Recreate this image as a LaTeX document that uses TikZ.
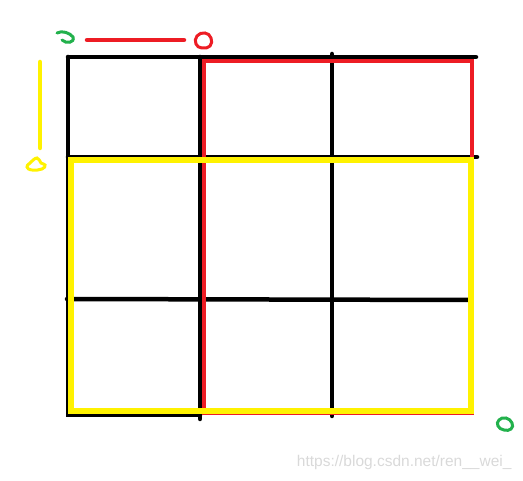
\documentclass[tikz,border=0pt]{standalone}
\usepackage{fontspec}
\setmainfont{Liberation Sans}
\usetikzlibrary{positioning}
\definecolor{paintred}{RGB}{237,28,36}
\definecolor{paintyellow}{RGB}{255,242,0}
\definecolor{paintgreen}{RGB}{34,177,76}

\begin{document}
\begin{tikzpicture}[x=1pt,y=-1pt,line cap=round,
    grid/.style={line width=4.5pt,black},
    redbox/.style={line width=4.5pt,paintred},
    yellowbox/.style={line width=5.5pt,paintyellow},
    scribble/.style={line width=3pt,smooth cycle,tension=0.8}]

                \useasboundingbox (0,0) rectangle (523,481);

                % grid
                \draw[grid] (68,57) -- (476,57);
                \draw[grid] (68,157) -- (477,157);
                \draw[grid] (67,299) -- (470,300);
                \draw[grid] (68,57) -- (68,415) -- (200,415);
                \draw[grid] (200,57) -- (200,419);
                \draw[grid] (332,54) -- (332,416);

                % boxes
                \draw[redbox] (204,61) rectangle (472,413);
                \draw[yellowbox] (71,160) rectangle (471,411);

                % marks
                \draw[redbox] (87,40) -- (184,40);
                \draw[yellowbox,line width=4.5pt] (40,62) -- (40,148);
                \draw[scribble,paintred] plot coordinates {(197,36) (205,33) (211,38) (210,46) (202,48) (196,44)};
                \draw[line width=3pt,paintgreen] (57,33) .. controls (62,30) and (70,33) .. (73,37) .. controls (75,43) and (66,44) .. (62,40);
                \draw[scribble,paintyellow] plot coordinates {(30,163) (37,158) (41,163) (45,165) (42,169) (32,170) (27,167)};
                \draw[scribble,paintgreen] plot coordinates {(499,420) (506,418) (512,423) (511,429) (504,430) (498,426)};

                \node[text=black!15,font=\fontsize{15.5}{18}\selectfont,anchor=east] (wm) at (515,462) {https://blog.csdn.net/ren\_\_wei\_};

\end{tikzpicture}
\end{document}
